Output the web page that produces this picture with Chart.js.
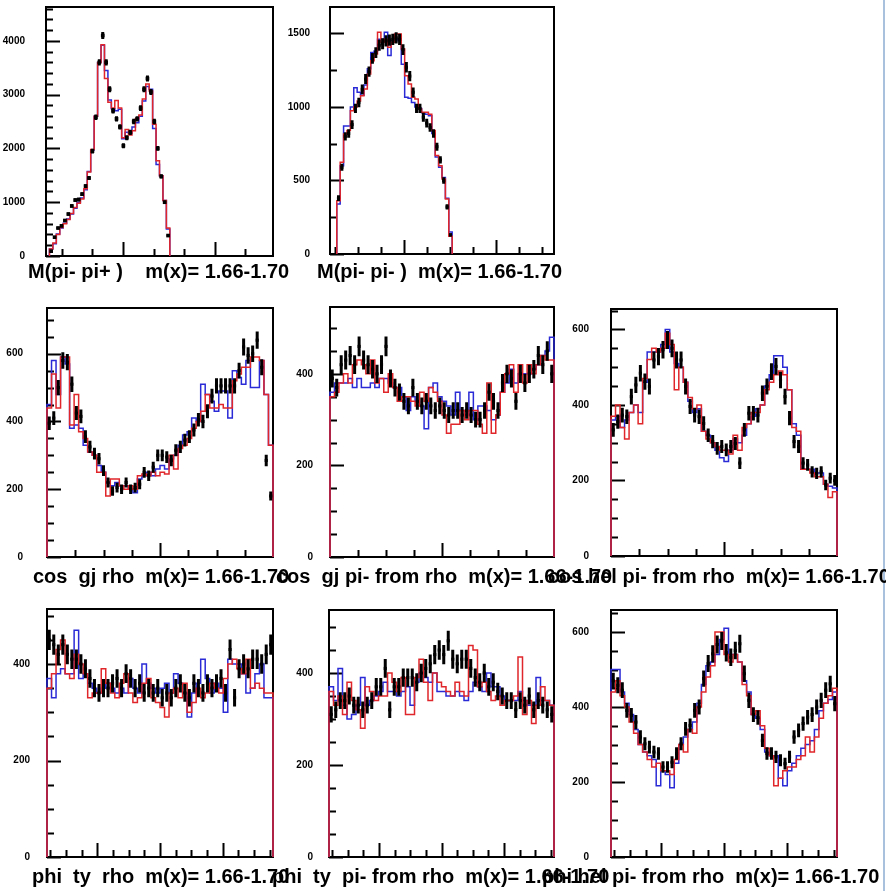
<!DOCTYPE html>
<html>
<head>
<meta charset="utf-8">
<script src="https://cdn.jsdelivr.net/npm/chart.js@4.4.0/dist/chart.umd.min.js"></script>
<style>
  body { margin: 0; background: #fff; width: 886px; height: 891px; position: relative; overflow: hidden; }
  .pad { position: absolute; }
  .ttl { position: absolute; font: bold 20px "Liberation Sans", Arial, sans-serif; line-height: 20px; white-space: pre; color: #000; }
  .edge { position: absolute; left: 883px; top: 0; width: 2px; height: 891px; background: #a9c1dc; }
</style>
</head>
<body>
<div class="edge"></div>
<script>
// ---- data (bin contents) ----
// M(pi- pi+), 66 bins, first filled bin = 1
const m1Start = 1;
const m1Data = [90, 350, 520, 560, 660, 780, 930, 1040, 1050, 1150, 1300, 1450, 1950, 2580, 3600, 4100, 3600, 3100, 2700, 2550, 2400, 2050, 2200, 2300, 2500, 2550, 2750, 3100, 3300, 3050, 2500, 2000, 1480, 1000, 380];
const m1Red  = [130, 240, 400, 530, 600, 680, 790, 900, 980, 1060, 1250, 1560, 1980, 2600, 3600, 3930, 3300, 2860, 2750, 2890, 2750, 2200, 2350, 2250, 2330, 2550, 2620, 2920, 3200, 3070, 2450, 1770, 1490, 1030, 520];
const m1Blue = [130, 230, 410, 520, 610, 690, 780, 890, 1000, 1080, 1230, 1570, 1970, 2600, 3600, 3920, 3450, 2900, 2740, 2700, 2730, 2180, 2300, 2280, 2400, 2480, 2600, 2880, 3150, 3100, 2370, 1700, 1490, 1030, 500];

// M(pi- pi-), 66 bins, first filled bin = 2
const m2Start = 2;
const m2Data = [380, 590, 800, 820, 880, 990, 1030, 1120, 1190, 1240, 1330, 1370, 1420, 1430, 1450, 1455, 1460, 1470, 1460, 1390, 1270, 1210, 1100, 990, 990, 930, 890, 860, 820, 730, 640, 500, 320, 130];
const m2Red  = [363, 624, 816, 840, 975, 1000, 1040, 1077, 1123, 1225, 1315, 1360, 1508, 1440, 1463, 1406, 1440, 1497, 1497, 1395, 1213, 1157, 1066, 1055, 986, 964, 964, 950, 840, 670, 600, 510, 374, 120];
const m2Blue = [340, 600, 870, 870, 1000, 1130, 1100, 1080, 1150, 1260, 1370, 1380, 1460, 1460, 1508, 1350, 1450, 1460, 1450, 1290, 1066, 1060, 1030, 1000, 990, 960, 950, 940, 820, 660, 590, 520, 380, 150];

// cos gj rho, 50 bins over -1..1
const c1Data = [395, 410, 500, 580, 575, 510, 425, 415, 355, 325, 305, 290, 255, 220, 195, 205, 200, 220, 200, 205, 215, 250, 240, 265, 300, 300, 295, 285, 315, 325, 345, 355, 375, 405, 400, 430, 475, 505, 505, 505, 505, 505, 550, 620, 595, 600, 640, 560, 285, 180];
const c1Red  = [440, 540, 440, 590, 590, 390, 480, 370, 350, 310, 300, 250, 250, 180, 230, 230, 210, 200, 210, 200, 240, 245, 240, 250, 240, 250, 245, 300, 260, 320, 330, 350, 380, 400, 430, 480, 440, 440, 450, 440, 440, 520, 540, 560, 560, 590, 590, 580, 480, 330];
const c1Blue = [450, 580, 480, 590, 570, 380, 390, 380, 330, 310, 300, 270, 250, 220, 210, 220, 210, 210, 200, 190, 230, 240, 250, 240, 260, 270, 260, 290, 300, 330, 360, 370, 410, 400, 510, 480, 460, 430, 490, 490, 410, 550, 530, 510, 580, 500, 500, 580, 480, 330];

// cos gj pi- from rho
const c2Data = [390, 370, 420, 430, 440, 420, 460, 430, 420, 410, 400, 420, 460, 390, 370, 360, 340, 330, 370, 340, 330, 340, 330, 320, 330, 320, 310, 320, 320, 310, 320, 310, 300, 300, 320, 360, 340, 320, 380, 400, 390, 340, 400, 380, 400, 410, 440, 420, 450, 400];
const c2Red  = [350, 360, 380, 400, 380, 420, 430, 420, 400, 430, 380, 390, 360, 400, 370, 340, 350, 350, 340, 330, 360, 340, 370, 360, 340, 310, 270, 290, 290, 320, 300, 320, 320, 290, 270, 380, 270, 310, 360, 400, 420, 360, 420, 380, 420, 400, 420, 440, 430, 430];
const c2Blue = [360, 380, 380, 380, 390, 370, 390, 370, 370, 380, 370, 390, 390, 380, 370, 370, 350, 320, 350, 340, 330, 280, 370, 380, 350, 340, 330, 310, 360, 320, 310, 360, 300, 330, 330, 320, 300, 310, 360, 380, 410, 380, 400, 400, 400, 410, 420, 440, 450, 480];

// cos hel pi- from rho
const c3Data = [334, 356, 373, 369, 422, 453, 484, 462, 449, 519, 528, 546, 572, 550, 519, 519, 449, 396, 373, 369, 351, 320, 303, 285, 290, 281, 290, 298, 246, 334, 378, 378, 373, 431, 449, 488, 502, 466, 422, 365, 303, 290, 246, 241, 223, 219, 223, 188, 206, 200];
const c3Red  = [370, 400, 340, 310, 380, 400, 350, 470, 520, 550, 540, 550, 590, 560, 440, 500, 460, 420, 390, 400, 330, 310, 300, 290, 280, 280, 270, 320, 280, 340, 350, 380, 380, 400, 440, 460, 480, 490, 480, 440, 340, 330, 230, 230, 220, 210, 210, 190, 155, 170];
const c3Blue = [360, 370, 340, 360, 380, 400, 380, 460, 540, 540, 540, 560, 600, 540, 510, 500, 460, 410, 380, 390, 330, 320, 300, 280, 260, 250, 280, 310, 300, 320, 350, 370, 390, 400, 450, 480, 530, 530, 500, 440, 350, 320, 230, 230, 230, 220, 220, 190, 185, 180];

// phi ty rho, 50 bins over -180..180
const p1Data = [450, 440, 420, 440, 420, 410, 410, 400, 390, 370, 350, 340, 350, 350, 360, 370, 350, 380, 370, 350, 360, 340, 350, 340, 350, 330, 340, 330, 350, 360, 340, 330, 360, 350, 340, 360, 350, 360, 370, 340, 430, 330, 390, 400, 390, 410, 410, 400, 420, 440];
const p1Red  = [350, 380, 430, 450, 380, 370, 420, 400, 380, 330, 340, 340, 390, 360, 340, 330, 360, 380, 340, 320, 330, 360, 370, 330, 320, 310, 290, 340, 350, 330, 360, 300, 320, 350, 330, 340, 360, 350, 340, 370, 400, 410, 390, 380, 410, 350, 360, 350, 340, 340];
const p1Blue = [370, 330, 380, 390, 380, 380, 470, 370, 380, 360, 350, 340, 350, 360, 350, 340, 350, 340, 370, 350, 340, 400, 360, 350, 340, 350, 360, 340, 380, 360, 340, 290, 340, 360, 410, 370, 340, 360, 350, 300, 410, 400, 400, 380, 340, 350, 380, 400, 330, 330];

// phi ty pi- from rho
const p2Data = [310, 320, 340, 340, 350, 330, 330, 320, 330, 340, 370, 370, 410, 320, 370, 370, 390, 390, 390, 380, 400, 410, 420, 440, 450, 440, 470, 430, 420, 430, 430, 410, 390, 380, 400, 370, 380, 360, 350, 340, 340, 320, 340, 330, 350, 320, 340, 330, 320, 310];
const p2Red  = [360, 330, 350, 310, 380, 340, 320, 280, 370, 360, 340, 350, 350, 400, 380, 360, 390, 310, 310, 390, 430, 380, 340, 400, 380, 370, 360, 350, 380, 360, 350, 460, 450, 370, 380, 360, 340, 350, 330, 340, 340, 350, 435, 310, 340, 290, 330, 370, 340, 330];
const p2Blue = [370, 340, 410, 330, 300, 310, 330, 390, 330, 340, 350, 360, 380, 360, 360, 350, 360, 370, 330, 380, 400, 390, 380, 400, 360, 360, 350, 350, 360, 350, 340, 360, 380, 370, 360, 400, 370, 370, 350, 340, 340, 340, 360, 340, 330, 330, 390, 340, 340, 330];

// phi hel pi- from rho
const p3Data = [470, 458, 445, 391, 378, 360, 320, 302, 293, 280, 276, 240, 240, 253, 276, 302, 342, 351, 391, 400, 476, 516, 542, 567, 576, 545, 533, 551, 569, 489, 418, 380, 372, 311, 276, 276, 267, 258, 249, 267, 320, 338, 356, 373, 380, 400, 418, 445, 462, 409];
const p3Red  = [440, 470, 430, 400, 360, 330, 300, 280, 260, 240, 250, 230, 230, 220, 260, 300, 280, 340, 330, 400, 440, 480, 510, 600, 600, 540, 520, 540, 520, 460, 430, 380, 390, 350, 290, 270, 190, 210, 230, 240, 240, 260, 270, 320, 280, 320, 370, 410, 430, 450];
const p3Blue = [500, 500, 440, 410, 380, 340, 300, 280, 270, 260, 190, 230, 220, 185, 250, 300, 320, 340, 360, 410, 460, 510, 520, 540, 580, 610, 540, 540, 520, 470, 440, 380, 370, 340, 280, 270, 270, 210, 190, 230, 250, 270, 290, 300, 310, 340, 390, 410, 420, 440];

const titles = [
  'M(pi- pi+ )    m(x)= 1.66-1.70',
  'M(pi- pi- )  m(x)= 1.66-1.70',
  'cos  gj rho  m(x)= 1.66-1.70',
  'cos  gj pi- from rho  m(x)= 1.66-1.70',
  'cos hel pi- from rho  m(x)= 1.66-1.70',
  'phi  ty  rho  m(x)= 1.66-1.70',
  'phi  ty  pi- from rho  m(x)= 1.66-1.70',
  'phi hel pi- from rho  m(x)= 1.66-1.70'
];

const RED = '#e0262a';
const BLUE = '#2a2ad6';
const AXW = 46, PAD = 8, VPAD = 26;

// layout of the 8 pads (frame = left, top, right, bottom in page pixels)
const pads = [
  { frame: [46, 7, 273, 256],   ymax: 4630, yMajor: 1000, yMinor: 200, lp: 13, lo: 0, hi: 66, nb: 66, start: m1Start, data: m1Data, red: m1Red, blue: m1Blue, t0: 22.4, dt: 8.9, every: 3, mark: 2.6, tx: 28,  ty: 261 },
  { frame: [330, 7, 554, 254],  ymax: 1680, yMajor: 500,  yMinor: 250, lp: 12, lo: 0, hi: 66, nb: 66, start: m2Start, data: m2Data, red: m2Red, blue: m2Blue, t0: 21.8, dt: 6.8, every: 4, mark: 2.2, tx: 317, ty: 261 },
  { frame: [47, 308, 273, 557], ymax: 735,  yMajor: 200,  yMinor: 50,  lp: 16, lo: -1, hi: 1, nb: 50, start: 0, data: c1Data, red: c1Red, blue: c1Blue, t0: 0, dt: 0.25, every: 4, mark: 2.2, tx: 33,  ty: 566 },
  { frame: [330, 307, 554, 557], ymax: 546, yMajor: 200,  yMinor: 50,  lp: 9,  lo: -1, hi: 1, nb: 50, start: 0, data: c2Data, red: c2Red, blue: c2Blue, t0: 0, dt: 0.25, every: 4, mark: 2.2, tx: 276, ty: 566 },
  { frame: [611, 309, 837, 556], ymax: 654, yMajor: 200,  yMinor: 50,  lp: 14, lo: -1, hi: 1, nb: 50, start: 0, data: c3Data, red: c3Red, blue: c3Blue, t0: 0, dt: 0.25, every: 4, mark: 2.2, tx: 548, ty: 566 },
  { frame: [47, 609, 273, 857], ymax: 514,  yMajor: 200,  yMinor: 50,  lp: 9,  lo: -180, hi: 180, nb: 50, start: 0, data: p1Data, red: p1Red, blue: p1Blue, t0: 0, dt: 25, every: 4, mark: 2.2, tx: 32,  ty: 866 },
  { frame: [329, 610, 554, 857], ymax: 537, yMajor: 200,  yMinor: 50,  lp: 8,  lo: -180, hi: 180, nb: 50, start: 0, data: p2Data, red: p2Red, blue: p2Blue, t0: 0, dt: 25, every: 4, mark: 2.2, tx: 272, ty: 866 },
  { frame: [611, 610, 837, 857], ymax: 659, yMajor: 200,  yMinor: 50,  lp: 14, lo: -180, hi: 180, nb: 50, start: 0, data: p3Data, red: p3Red, blue: p3Blue, t0: 0, dt: 25, every: 4, mark: 2.2, tx: 542, ty: 866 }
];

// outline of a histogram as a stepped line
function steps(vals, start, lo, hi, nb) {
  const w = (hi - lo) / nb;
  const e = i => lo + (start + i) * w;
  const pts = [{ x: e(0), y: 0 }];
  vals.forEach((v, i) => pts.push({ x: e(i), y: v }));
  pts.push({ x: e(vals.length), y: vals[vals.length - 1] });
  pts.push({ x: e(vals.length), y: 0 });
  return pts;
}

function centres(vals, start, lo, hi, nb) {
  const w = (hi - lo) / nb;
  return vals.map((v, i) => ({ x: lo + (start + i + 0.5) * w, y: v }));
}

// frame, inward ticks and error bars, ROOT style
const rootFrame = {
  id: 'rootFrame',
  beforeDatasetsDraw(chart, args, o) {
    const { ctx, chartArea: a, scales: { x, y } } = chart;
    ctx.save();
    ctx.strokeStyle = '#000';
    ctx.lineWidth = 2;
    ctx.strokeRect(a.left, a.top, a.right - a.left, a.bottom - a.top);
    ctx.beginPath();
    for (let v = 0; v < y.max; v += o.yMinor) {
      const py = Math.round(y.getPixelForValue(v)) + 0.5;
      const len = (v % o.yMajor === 0) ? 14 : 7;
      ctx.moveTo(a.left, py);
      ctx.lineTo(a.left + len, py);
    }
    const span = x.max - x.min;
    for (let k = -40; k <= 40; k++) {
      const v = o.t0 + k * o.dt;
      if (v <= x.min + 0.012 * span || v >= x.max - 0.012 * span) continue;
      const px = Math.round(x.getPixelForValue(v)) + 0.5;
      const len = (k % o.every === 0) ? 14 : 7;
      ctx.moveTo(px, a.bottom);
      ctx.lineTo(px, a.bottom - len);
    }
    ctx.stroke();
    ctx.restore();
  },
  afterDatasetsDraw(chart) {
    const { ctx, scales: { y } } = chart;
    const meta = chart.getDatasetMeta(0);
    const ds = chart.data.datasets[0];
    ctx.save();
    ctx.strokeStyle = '#000';
    ctx.lineWidth = 3;
    ctx.beginPath();
    meta.data.forEach((pt, i) => {
      const v = ds.data[i].y;
      const err = Math.sqrt(v);
      ctx.moveTo(pt.x, y.getPixelForValue(v + err));
      ctx.lineTo(pt.x, y.getPixelForValue(v - err));
    });
    ctx.stroke();
    ctx.restore();
  }
};

pads.forEach((p, n) => {
  const [l, t, r, b] = p.frame;
  const W = (r - l) + AXW + PAD, H = (b - t) + 2 * VPAD;
  const box = document.createElement('div');
  box.className = 'pad';
  box.style.left = (l - AXW) + 'px';
  box.style.top = (t - VPAD) + 'px';
  box.style.width = W + 'px';
  box.style.height = H + 'px';
  const cv = document.createElement('canvas');
  cv.width = W; cv.height = H;
  cv.style.width = W + 'px'; cv.style.height = H + 'px';
  box.appendChild(cv);
  document.body.appendChild(box);

  new Chart(cv, {
    type: 'line',
    data: {
      datasets: [
        { data: centres(p.data, p.start, p.lo, p.hi, p.nb), showLine: false, pointStyle: 'rect',
          pointRadius: p.mark, pointBackgroundColor: '#000', pointBorderWidth: 0, clip: 4 },
        { data: steps(p.red, p.start, p.lo, p.hi, p.nb), borderColor: RED, borderWidth: 1.5,
          pointRadius: 0, stepped: true, fill: false, clip: 4 },
        { data: steps(p.blue, p.start, p.lo, p.hi, p.nb), borderColor: BLUE, borderWidth: 1.5,
          pointRadius: 0, stepped: true, fill: false, clip: 4 }
      ]
    },
    options: {
      responsive: false,
      animation: false,
      layout: { padding: { left: 0, top: VPAD, right: PAD, bottom: VPAD } },
      plugins: {
        legend: { display: false },
        tooltip: { enabled: false },
        rootFrame: { yMajor: p.yMajor, yMinor: p.yMinor, t0: p.t0, dt: p.dt, every: p.every }
      },
      scales: {
        x: { type: 'linear', min: p.lo, max: p.hi, display: false },
        y: {
          min: 0, max: p.ymax,
          afterFit: s => { s.width = AXW; },
          afterBuildTicks: s => {
            const t = [];
            for (let v = 0; v <= p.ymax; v += p.yMajor) t.push({ value: v });
            s.ticks = t;
          },
          grid: { display: false },
          border: { display: false },
          ticks: {
            padding: p.lp, color: '#000', autoSkip: false, maxRotation: 0,
            font: { family: '"Liberation Sans", Arial, sans-serif', size: 10, weight: 'bold' },
            callback: v => String(v)
          }
        }
      }
    },
    plugins: [rootFrame]
  });

  const tt = document.createElement('div');
  tt.className = 'ttl';
  tt.textContent = titles[n];
  tt.style.left = p.tx + 'px';
  tt.style.top = p.ty + 'px';
  document.body.appendChild(tt);
});
</script>
</body>
</html>
